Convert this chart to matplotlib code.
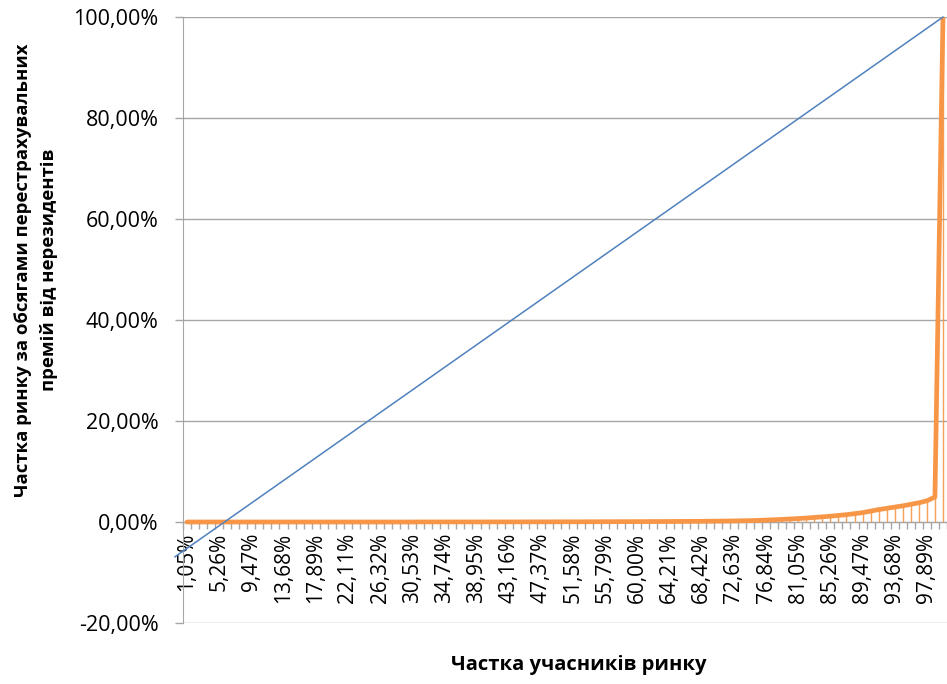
import matplotlib.pyplot as plt
import numpy as np

# --- Data ---
tick_labels = ["1,05%", "5,26%", "9,47%", "13,68%", "17,89%", "22,11%", "26,32%",
               "30,53%", "34,74%", "38,95%", "43,16%", "47,37%", "51,58%", "55,79%",
               "60,00%", "64,21%", "68,42%", "72,63%", "76,84%", "81,05%", "85,26%",
               "89,47%", "93,68%", "97,89%"]

# cumulative share of premiums, % (95 market participants)
lorenz = [
    0.00, 0.00, 0.00, 0.00, 0.00, 0.00, 0.00, 0.00, 0.00, 0.00,
    0.00, 0.00, 0.00, 0.00, 0.00, 0.00, 0.00, 0.00, 0.00, 0.00,
    0.00, 0.00, 0.00, 0.00, 0.00, 0.00, 0.00, 0.00, 0.00, 0.01,
    0.01, 0.01, 0.01, 0.01, 0.01, 0.01, 0.01, 0.01, 0.02, 0.02,
    0.02, 0.02, 0.02, 0.03, 0.03, 0.03, 0.03, 0.04, 0.04, 0.04,
    0.05, 0.05, 0.06, 0.06, 0.07, 0.07, 0.08, 0.08, 0.09, 0.09,
    0.10, 0.11, 0.12, 0.13, 0.14, 0.15, 0.17, 0.19, 0.21, 0.24,
    0.27, 0.32, 0.38, 0.45, 0.52, 0.60, 0.68, 0.78, 0.90, 1.02,
    1.15, 1.30, 1.45, 1.65, 1.85, 2.15, 2.45, 2.70, 2.95, 3.20,
    3.50, 3.80, 4.20, 4.95, 100.00,
]

# equality line (category position, %)
equal_x = [-1.5, 94]
equal_y = [-6.9, 100.0]

orange = "#F79646"
blue = "#4F81BD"
grid_gray = "#A6A6A6"

plt.rcParams["font.family"] = ["Open Sans", "DejaVu Sans"]

fig = plt.figure(figsize=(9.47, 6.84), dpi=100)
ax = fig.add_axes([0.1932, 0.0892, 0.8068, 0.8859])

x = np.arange(len(lorenz))
ax.vlines(x, 0, lorenz, color=orange, linewidth=1.0, alpha=0.9, zorder=2)
ax.plot(x, lorenz, color=orange, linewidth=3.4, solid_capstyle="round", zorder=3)
ax.plot(equal_x, equal_y, color=blue, linewidth=1.1, clip_on=False, zorder=4)

ax.set_xlim(-0.5, len(lorenz) - 0.5)
ax.set_ylim(-20, 100)

# y axis
ax.set_yticks(np.arange(-20, 101, 20))
ax.set_yticklabels([f"{v:.2f}%".replace(".", ",") for v in np.arange(-20, 101, 20)])
ax.yaxis.grid(True, color=grid_gray, linewidth=1.0)
ax.set_axisbelow(True)
ax.tick_params(axis="y", length=5.5, width=1, color=grid_gray, labelsize=15.5, pad=12)

# category axis at 0
for side in ["top", "right"]:
    ax.spines[side].set_visible(False)
ax.spines["left"].set_color(grid_gray)
ax.spines["bottom"].set_position(("data", 0))
ax.spines["bottom"].set_color(grid_gray)
ax.spines["bottom"].set_zorder(1)
ax.set_xticks(np.arange(0, len(lorenz), 4))
ax.set_xticklabels(tick_labels, rotation=90)
ax.set_xticks(np.arange(-0.5, len(lorenz), 1), minor=True)
ax.tick_params(axis="x", which="major", length=0, labelsize=15, pad=8)
ax.tick_params(axis="x", which="minor", length=5, width=1, color=grid_gray)

ax.set_xlabel("Частка учасників ринку", fontsize=14.5, fontweight="bold")
ax.xaxis.set_label_coords(0.518, -0.053)
ax.set_ylabel("Частка ринку за обсягами перестрахувальних\nпремій від нерезидентів",
              fontsize=13.3, fontweight="bold", linespacing=1.55)
ax.yaxis.set_label_coords(-0.1636, 0.5825)

fig.savefig("out.png", dpi=100)
